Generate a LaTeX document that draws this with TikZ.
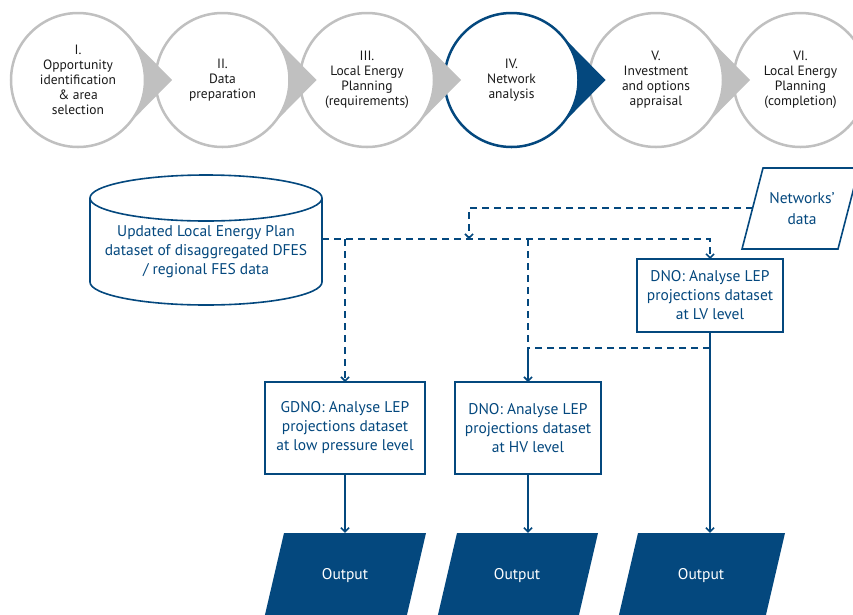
\documentclass[tikz,border=0pt]{standalone}
\usepackage{fontspec}
\setmainfont{PT Sans}
\usepackage{xcolor}
\usepackage{tikz}
\usetikzlibrary{positioning,calc,arrows.meta}

\definecolor{lepblue}{RGB}{4,72,126}
\definecolor{stagegrey}{RGB}{192,192,192}

\tikzset{
    stage/.style={circle, draw=stagegrey, line width=2.5pt, fill=white, minimum size=134pt,
        inner sep=0pt, outer sep=0pt, align=center, text=black!90,
        font=\fontsize{13.5}{15}\selectfont},
    task/.style={draw=lepblue, line width=1.6pt, fill=white, text=lepblue, align=center,
        inner sep=2pt, outer sep=0pt, font=\fontsize{15.5}{19}\selectfont},
    flow/.style={lepblue, line width=1.6pt, -{Straight Barb[length=4pt,width=8pt]}},
    plainflow/.style={lepblue, line width=1.6pt},
    dashflow/.style={dash pattern=on 7pt off 5pt},
    outtext/.style={text=white, minimum height=86pt, minimum width=120pt, inner sep=0pt,
        font=\fontsize{15.5}{19}\selectfont}
}

\begin{document}
\begin{tikzpicture}[x=1pt, y=-1pt]
    \useasboundingbox (0,0) rectangle (853,614);

    % stages along the top
    \node [stage] (s1) at (78,80) {I.\\Opportunity\\identification\\\& area\\selection};
    \node [stage] (s2) at (222.5,80) {II.\\Data\\preparation};
    \node [stage] (s3) at (367,80) {III.\\Local Energy\\Planning\\(requirements)};
    \node [stage, draw=lepblue] (s4) at (511.5,80) {IV.\\Network\\analysis};
    \node [stage] (s5) at (656,80) {V.\\Investment\\and options\\appraisal};
    \node [stage] (s6) at (800.5,80) {VI.\\Local Energy\\Planning\\(completion)};
    \fill [stagegrey] (s1.44) -- ($(s1)+(94,0)$) -- (s1.-44) arc [start angle=-44, end angle=44, radius=67pt] -- cycle;
    \fill [stagegrey] (s2.44) -- ($(s2)+(94,0)$) -- (s2.-44) arc [start angle=-44, end angle=44, radius=67pt] -- cycle;
    \fill [stagegrey] (s3.44) -- ($(s3)+(94,0)$) -- (s3.-44) arc [start angle=-44, end angle=44, radius=67pt] -- cycle;
    \fill [lepblue] (s4.44) -- ($(s4)+(94,0)$) -- (s4.-44) arc [start angle=-44, end angle=44, radius=67pt] -- cycle;
    \fill [stagegrey] (s5.44) -- ($(s5)+(94,0)$) -- (s5.-44) arc [start angle=-44, end angle=44, radius=67pt] -- cycle;

    % LEP dataset
    \draw [plainflow, fill=white] (90,198) -- (90,282) arc [start angle=180, end angle=360, x radius=116pt, y radius=23pt] -- (322,198);
    \draw [plainflow] (206,198) ellipse [x radius=116pt, y radius=23pt];
    \node [text=lepblue, align=center, font=\fontsize{15.5}{19}\selectfont] (db) at (206,252) {Updated Local Energy Plan\\dataset of disaggregated DFES\\/ regional FES data};
    \coordinate (dbR) at (322,239);

    % networks' data
    \draw [plainflow, fill=white] (742,249) -- (838,249) -- (859,168) -- (763,168) -- cycle;
    \node [text=lepblue, align=center, font=\fontsize{15.5}{21}\selectfont] (net) at (802,209) {Networks’\\data};
    \coordinate (netL) at (753,208);
    \coordinate (netdrop) at (469,239);

    % analysis boxes
    \node [task, minimum width=146pt, minimum height=73pt] (lv) at (710,295.5) {DNO: Analyse LEP\\projections dataset\\at LV level};
    \node [task, minimum width=160pt, minimum height=92pt] (gdno) at (345,428) {GDNO: Analyse LEP\\projections dataset\\at low pressure level};
    \node [task, minimum width=146pt, minimum height=92pt] (hv) at (528,428) {DNO: Analyse LEP\\projections dataset\\at HV level};
    \coordinate (hvjoin) at (528,348);

    % outputs
    \fill [lepblue] (284,533) -- (426,533) -- (406,619) -- (264,619) -- cycle;
    \fill [lepblue] (457,533) -- (598,533) -- (578,619) -- (437,619) -- cycle;
    \fill [lepblue] (638,533) -- (785,533) -- (765,619) -- (618,619) -- cycle;
    \node [outtext] (out1) at (345,576) {Output};
    \node [outtext] (out2) at (517,576) {Output};
    \node [outtext] (out3) at (701,576) {Output};

    % connectors
    \draw [flow, dashflow] (dbR) -| (lv.north);
    \draw [flow, dashflow] (dbR -| gdno.north) -- (gdno.north);
    \draw [plainflow, dashflow] (dbR -| hv.north) -- (hvjoin);
    \draw [flow, dashflow] (netL) -| (netdrop);
    \draw [plainflow, dashflow] (lv.south |- hvjoin) -- (hvjoin);
    \draw [flow] (hvjoin) -- (hv.north);
    \draw [flow] (gdno.south) -- (out1.north);
    \draw [flow] (hv.south) -- (hv.south |- out2.north);
    \draw [flow] (lv.south) -- (lv.south |- out3.north);
\end{tikzpicture}
\end{document}
